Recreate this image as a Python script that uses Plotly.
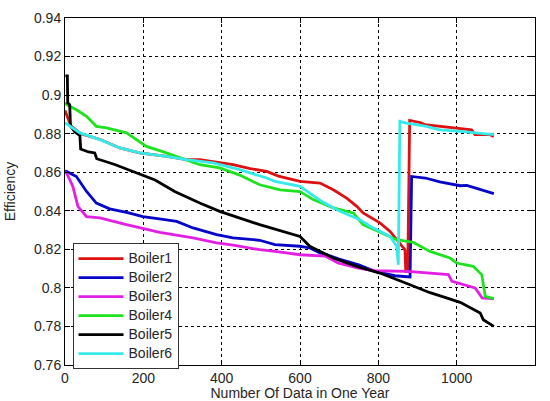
import plotly.graph_objects as go

names = ["Boiler1", "Boiler2", "Boiler3", "Boiler4", "Boiler5", "Boiler6"]
colors = ["#dd1111", "#0606c8", "#e41fe4", "#1ee21e", "#000000", "#36eaea"]

b1_x = [0, 5, 15, 40, 90, 140, 190, 260, 310, 344, 378, 429, 470, 515, 545, 566, 600, 651, 685, 719, 745, 761, 804, 830, 855, 868, 870, 875, 880, 906, 919, 957, 1000, 1038, 1047, 1085, 1095]
b1_y = [0.892, 0.889, 0.884, 0.880, 0.877, 0.8726, 0.870, 0.8682, 0.8665, 0.8665, 0.8655, 0.8639, 0.862, 0.8604, 0.858, 0.857, 0.8552, 0.8544, 0.8509, 0.8466, 0.8423, 0.8389, 0.8337, 0.8293, 0.8233, 0.8198, 0.8086, 0.8086, 0.8869, 0.8858, 0.8847, 0.8838, 0.883, 0.882, 0.8795, 0.8795, 0.8786]

b2_x = [0, 4, 29, 55, 80, 114, 160, 199, 250, 285, 327, 387, 429, 497, 536, 600, 625, 651, 664, 700, 750, 791, 842, 881, 885, 920, 957, 1009, 1026, 1060, 1080, 1095]
b2_y = [0.8605, 0.8604, 0.8578, 0.850, 0.844, 0.841, 0.839, 0.837, 0.8355, 0.8345, 0.8311, 0.8276, 0.826, 0.8247, 0.8224, 0.8216, 0.8207, 0.8181, 0.8175, 0.815, 0.812, 0.8086, 0.8063, 0.8057, 0.8578, 0.857, 0.855, 0.853, 0.8532, 0.851, 0.8495, 0.8489]

b3_x = [0, 4, 20, 33, 55, 89, 157, 242, 327, 387, 429, 497, 536, 600, 664, 697, 749, 791, 876, 979, 988, 1047, 1065, 1095]
b3_y = [0.8600, 0.8596, 0.8527, 0.8423, 0.837, 0.8363, 0.8328, 0.8288, 0.8259, 0.8233, 0.8222, 0.8198, 0.8189, 0.8172, 0.8165, 0.8129, 0.8103, 0.8089, 0.8086, 0.8069, 0.8034, 0.800, 0.7948, 0.7943]

b4_x = [0, 5, 29, 55, 80, 106, 157, 208, 259, 310, 344, 395, 446, 497, 549, 600, 634, 685, 736, 761, 847, 889, 932, 983, 1000, 1042, 1064, 1073, 1095]
b4_y = [0.896, 0.895, 0.8924, 0.889, 0.8838, 0.883, 0.8804, 0.8734, 0.870, 0.8665, 0.8639, 0.8622, 0.8585, 0.8535, 0.8509, 0.850, 0.8458, 0.8415, 0.8389, 0.8328, 0.825, 0.8236, 0.8189, 0.8155, 0.8129, 0.8112, 0.8069, 0.7956, 0.7944]

b5_x = [1, 6, 7, 12, 14, 25, 38, 40, 60, 76, 81, 127, 165, 204, 230, 255, 280, 344, 395, 497, 600, 625, 651, 685, 745, 804, 876, 932, 962, 1009, 1060, 1068, 1095]
b5_y = [0.910, 0.910, 0.896, 0.895, 0.884, 0.881, 0.879, 0.872, 0.8705, 0.870, 0.867, 0.864, 0.861, 0.858, 0.856, 0.853, 0.850, 0.844, 0.8397, 0.8328, 0.8267, 0.8216, 0.819, 0.8155, 0.8112, 0.8077, 0.802, 0.7975, 0.7956, 0.7925, 0.787, 0.7835, 0.780]

b6_x = [0, 5, 38, 89, 140, 191, 259, 310, 378, 429, 446, 515, 536, 600, 625, 655, 702, 753, 779, 830, 847, 851, 855, 872, 923, 957, 1009, 1060, 1095]
b6_y = [0.8855, 0.885, 0.8804, 0.8769, 0.8726, 0.870, 0.8682, 0.8665, 0.8648, 0.8622, 0.8613, 0.857, 0.8552, 0.8527, 0.8492, 0.8449, 0.8397, 0.8354, 0.832, 0.8267, 0.8216, 0.812, 0.8864, 0.8855, 0.8838, 0.882, 0.8812, 0.8804, 0.8795]

xs = [b1_x, b2_x, b3_x, b4_x, b5_x, b6_x]
ys = [b1_y, b2_y, b3_y, b4_y, b5_y, b6_y]

x_ticks = [0, 200, 400, 600, 800, 1000, 1200]
y_ticks = [0.76, 0.78, 0.8, 0.82, 0.84, 0.86, 0.88, 0.9, 0.92, 0.94]
y_tick_text = ["0.76", "0.78", "0.8", "0.82", "0.84", "0.86", "0.88", "0.9", "0.92", "0.94"]

FONT = "Liberation Sans, Arial, sans-serif"
TXT = "#262626"

fig = go.Figure()
for n, c, x, y in zip(names, colors, xs, ys):
    fig.add_trace(go.Scatter(
        x=x, y=y, mode="lines", name='<span style="font-size:14px">' + n + '</span>',
        line=dict(color=c, width=2.8),
    ))

axis_common = dict(
    showline=True, linecolor="black", linewidth=1, mirror="ticks",
    ticks="inside", ticklen=5, tickcolor="black", tickwidth=1,
    showgrid=True, gridcolor="black", gridwidth=1, griddash="dot",
    zeroline=False, automargin=False, tickfont=dict(family=FONT, size=14, color=TXT),
)

fig.update_xaxes(range=[0, 1200], tickvals=x_ticks, ticktext=[str(v) for v in x_ticks],
                 title=dict(text="Number Of Data in One Year", font=dict(family=FONT, size=14, color=TXT)),
                 **axis_common)
fig.update_yaxes(range=[0.76, 0.94], tickvals=y_ticks, ticktext=y_tick_text,
                 title=dict(text="Efficiency", font=dict(family=FONT, size=14, color=TXT)),
                 **axis_common)

fig.update_layout(
    width=550, height=401,
    margin=dict(l=65, r=15, t=18, b=36),
    paper_bgcolor="white", plot_bgcolor="white",
    font=dict(family=FONT, size=14, color=TXT),
    legend=dict(
        x=0.016, y=-0.012, xanchor="left", yanchor="bottom",
        bgcolor="white", bordercolor="#333333", borderwidth=1,
        font=dict(family=FONT, size=12, color=TXT),
        itemwidth=45,
    ),
    showlegend=True,
)

fig.write_html("out.html")
